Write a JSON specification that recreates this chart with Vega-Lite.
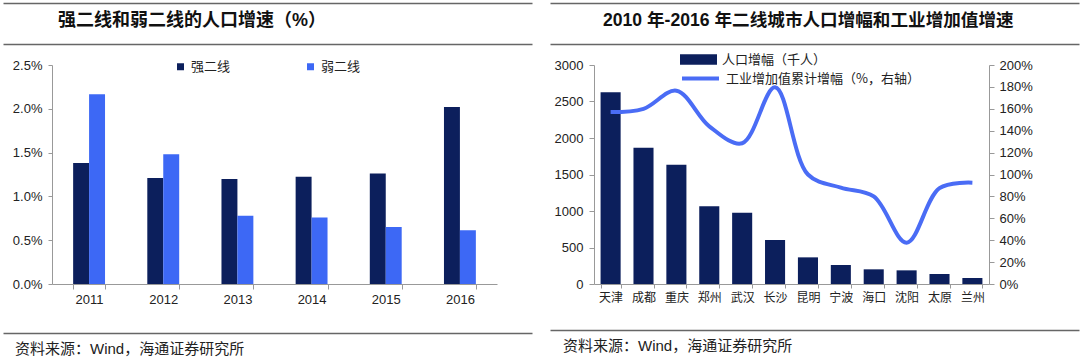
{
  "$schema": "https://vega.github.io/schema/vega-lite/v6.json",
  "background": "white",
  "padding": {"left": 3, "top": 3, "right": 0, "bottom": 0},
  "config": {
    "view": {"stroke": null},
    "font": "Liberation Sans",
    "axis": {"grid": false, "labelColor": "#222", "domainColor": "#999", "tickColor": "#999", "labelFontSize": 13, "titleFontSize": 13}
  },
  "datasets": {
    "left": [
      {"year": "2011", "series": "强二线", "rate": 0.0138},
      {"year": "2011", "series": "弱二线", "rate": 0.02165},
      {"year": "2012", "series": "强二线", "rate": 0.0121},
      {"year": "2012", "series": "弱二线", "rate": 0.0148},
      {"year": "2013", "series": "强二线", "rate": 0.0120},
      {"year": "2013", "series": "弱二线", "rate": 0.0078},
      {"year": "2014", "series": "强二线", "rate": 0.01225},
      {"year": "2014", "series": "弱二线", "rate": 0.0076},
      {"year": "2015", "series": "强二线", "rate": 0.0126},
      {"year": "2015", "series": "弱二线", "rate": 0.0065},
      {"year": "2016", "series": "强二线", "rate": 0.0202},
      {"year": "2016", "series": "弱二线", "rate": 0.00615}
    ],
    "right": [
      {"city": "天津", "pop": 2626, "ind": 1.57},
      {"city": "成都", "pop": 1867, "ind": 1.60},
      {"city": "重庆", "pop": 1634, "ind": 1.765},
      {"city": "郑州", "pop": 1064, "ind": 1.44},
      {"city": "武汉", "pop": 977, "ind": 1.285},
      {"city": "长沙", "pop": 603, "ind": 1.796},
      {"city": "昆明", "pop": 365, "ind": 1.00},
      {"city": "宁波", "pop": 260, "ind": 0.88},
      {"city": "海口", "pop": 201, "ind": 0.80},
      {"city": "沈阳", "pop": 187, "ind": 0.377},
      {"city": "太原", "pop": 137, "ind": 0.875},
      {"city": "兰州", "pop": 82, "ind": 0.925}
    ],
    "t1": [{"t": "强二线和弱二线的人口增速（%）"}],
    "t2": [{"t": "2010 年-2016 年二线城市人口增幅和工业增加值增速"}],
    "src": [{"s": "资料来源：Wind，海通证券研究所"}]
  },
  "align": "each",
  "hconcat": [
    {
      "spacing": 0,
      "vconcat": [
        {
          "width": 445, "height": 35,
          "data": {"name": "t1"},
          "mark": {"type": "text", "font": "Liberation Sans, Noto Sans CJK SC", "fontSize": 18, "fontWeight": "bold", "align": "left", "dx": 55, "color": "#111"},
          "encoding": {
            "text": {"field": "t"},
            "x": {"field": "t", "type": "nominal", "scale": {"type": "point", "padding": 0, "align": 0, "range": [-49, 480]},
                  "axis": {"orient": "top", "labels": false, "ticks": false, "title": null, "domainColor": "#666", "domainWidth": 1.5}}
          }
        },
        {
          "spacing": 9,
          "vconcat": [
            {
              "width": 445, "height": 1,
              "data": {"name": "t1"},
              "mark": {"type": "text"},
              "encoding": {
                "text": {"value": ""},
                "x": {"field": "t", "type": "nominal", "scale": {"type": "point", "padding": 0, "align": 0, "range": [-49, 480]},
                      "axis": {"orient": "top", "labels": false, "ticks": false, "title": null, "domainColor": "#666", "domainWidth": 1.5}}
              }
            },
            {
              "spacing": 27,
              "vconcat": [
                {
                  "width": 445, "height": 219,
                  "data": {"name": "left"},
                  "mark": {"type": "bar"},
                  "encoding": {
                    "x": {"field": "year", "type": "nominal", "scale": {"paddingInner": 0.57, "paddingOuter": 0.285},
                          "axis": {"title": null, "labelAngle": 0, "tickBand": "extent", "tickSize": 5, "labelPadding": 4}},
                    "xOffset": {"field": "series", "type": "nominal", "sort": ["强二线", "弱二线"]},
                    "y": {"field": "rate", "type": "quantitative", "scale": {"domain": [0, 0.025]},
                          "axis": {"title": null, "format": ".1%", "values": [0, 0.005, 0.01, 0.015, 0.02, 0.025], "tickSize": 4, "labelPadding": 6, "minExtent": 49, "maxExtent": 49}},
                    "color": {"field": "series", "type": "nominal",
                              "scale": {"domain": ["强二线", "弱二线"], "range": ["#0C1F5C", "#3D68F5"]},
                              "legend": {"orient": "none", "legendX": 122, "legendY": 57, "direction": "horizontal", "title": null,
                                         "symbolType": "square", "symbolSize": 49, "labelFont": "Noto Sans CJK SC", "labelFontSize": 13,
                                         "labelColor": "#222", "columnPadding": 73, "labelOffset": 4}}
                  }
                },
                {
                  "width": 445, "height": 22,
                  "data": {"name": "src"},
                  "mark": {"type": "text", "font": "Liberation Sans, Noto Sans CJK SC", "fontSize": 15, "align": "left", "dx": 12, "dy": 5, "color": "#222"},
                  "encoding": {
                    "text": {"field": "s"},
                    "x": {"field": "s", "type": "nominal", "scale": {"type": "point", "padding": 0, "align": 0, "range": [-49, 480]},
                          "axis": {"orient": "top", "labels": false, "ticks": false, "title": null, "domainColor": "#666", "domainWidth": 1.5}}
                  }
                }
              ]
            }
          ]
        }
      ]
    },
    {
      "spacing": 0,
      "vconcat": [
        {
          "width": 395, "height": 35,
          "data": {"name": "t2"},
          "mark": {"type": "text", "font": "Liberation Sans, Noto Sans CJK SC", "fontSize": 17.6, "fontWeight": "bold", "align": "left", "dx": 53, "color": "#111"},
          "encoding": {
            "text": {"field": "t"},
            "x": {"field": "t", "type": "nominal", "scale": {"type": "point", "padding": 0, "align": 0, "range": [-44, 485]},
                  "axis": {"orient": "top", "labels": false, "ticks": false, "title": null, "domainColor": "#666", "domainWidth": 1.5}}
          }
        },
        {
          "spacing": 9,
          "vconcat": [
            {
              "width": 395, "height": 1,
              "data": {"name": "t2"},
              "mark": {"type": "text"},
              "encoding": {
                "text": {"value": ""},
                "x": {"field": "t", "type": "nominal", "scale": {"type": "point", "padding": 0, "align": 0, "range": [-44, 485]},
                      "axis": {"orient": "top", "labels": false, "ticks": false, "title": null, "domainColor": "#666", "domainWidth": 1.5}}
              }
            },
            {
              "spacing": 27,
              "vconcat": [
                {
                  "width": 395, "height": 219,
                  "data": {"name": "right"},
                  "encoding": {
                    "x": {"field": "city", "type": "nominal", "sort": null, "scale": {"paddingInner": 0.39, "paddingOuter": 0.2},
                          "axis": {"title": null, "labelAngle": 0, "tickBand": "extent", "tickSize": 4, "labelPadding": 4, "labelFont": "Noto Sans CJK SC", "labelFontSize": 12}}
                  },
                  "layer": [
                    {
                      "mark": {"type": "bar"},
                      "encoding": {
                        "y": {"field": "pop", "type": "quantitative", "scale": {"domain": [0, 3000]},
                              "axis": {"title": null, "format": "d", "values": [0, 500, 1000, 1500, 2000, 2500, 3000], "tickSize": 5, "labelPadding": 6, "minExtent": 44, "maxExtent": 44}},
                        "fill": {"datum": "人口增幅（千人）", "type": "nominal", "scale": {"range": ["#0C1F5C"]},
                                 "legend": {"orient": "none", "legendX": 628, "legendY": 38, "title": null,
                                            "symbolType": "M-1,-0.28H1V0.28H-1Z", "symbolSize": 1369, "symbolStrokeWidth": 0,
                                            "labelFont": "Noto Sans CJK SC", "labelFontSize": 13, "labelColor": "#222", "labelOffset": 5, "labelLimit": 300}}
                      }
                    },
                    {
                      "mark": {"type": "line", "interpolate": "catmull-rom", "strokeWidth": 4},
                      "encoding": {
                        "y": {"field": "ind", "type": "quantitative", "scale": {"domain": [0, 2]},
                              "axis": {"orient": "right", "title": null, "format": ".0%", "values": [0, 0.2, 0.4, 0.6, 0.8, 1, 1.2, 1.4, 1.6, 1.8, 2], "tickSize": 5, "labelPadding": 5}},
                        "stroke": {"datum": "工业增加值累计增幅（%，右轴）", "type": "nominal", "scale": {"range": ["#4A6CF5"]},
                                   "legend": {"orient": "none", "legendX": 628, "legendY": 55, "title": null,
                                              "symbolType": "stroke", "symbolSize": 1369, "symbolStrokeWidth": 4,
                                              "labelFont": "Noto Sans CJK SC", "labelFontSize": 13, "labelColor": "#222", "labelOffset": 5, "labelLimit": 300}}
                      }
                    }
                  ],
                  "resolve": {"scale": {"y": "independent"}}
                },
                {
                  "width": 395, "height": 22,
                  "data": {"name": "src"},
                  "mark": {"type": "text", "font": "Liberation Sans, Noto Sans CJK SC", "fontSize": 15, "align": "left", "dx": 13, "dy": 5, "color": "#222"},
                  "encoding": {
                    "text": {"field": "s"},
                    "x": {"field": "s", "type": "nominal", "scale": {"type": "point", "padding": 0, "align": 0, "range": [-44, 485]},
                          "axis": {"orient": "top", "labels": false, "ticks": false, "title": null, "domainColor": "#666", "domainWidth": 1.5}}
                  }
                }
              ]
            }
          ]
        }
      ]
    }
  ],
  "spacing": -31
}
